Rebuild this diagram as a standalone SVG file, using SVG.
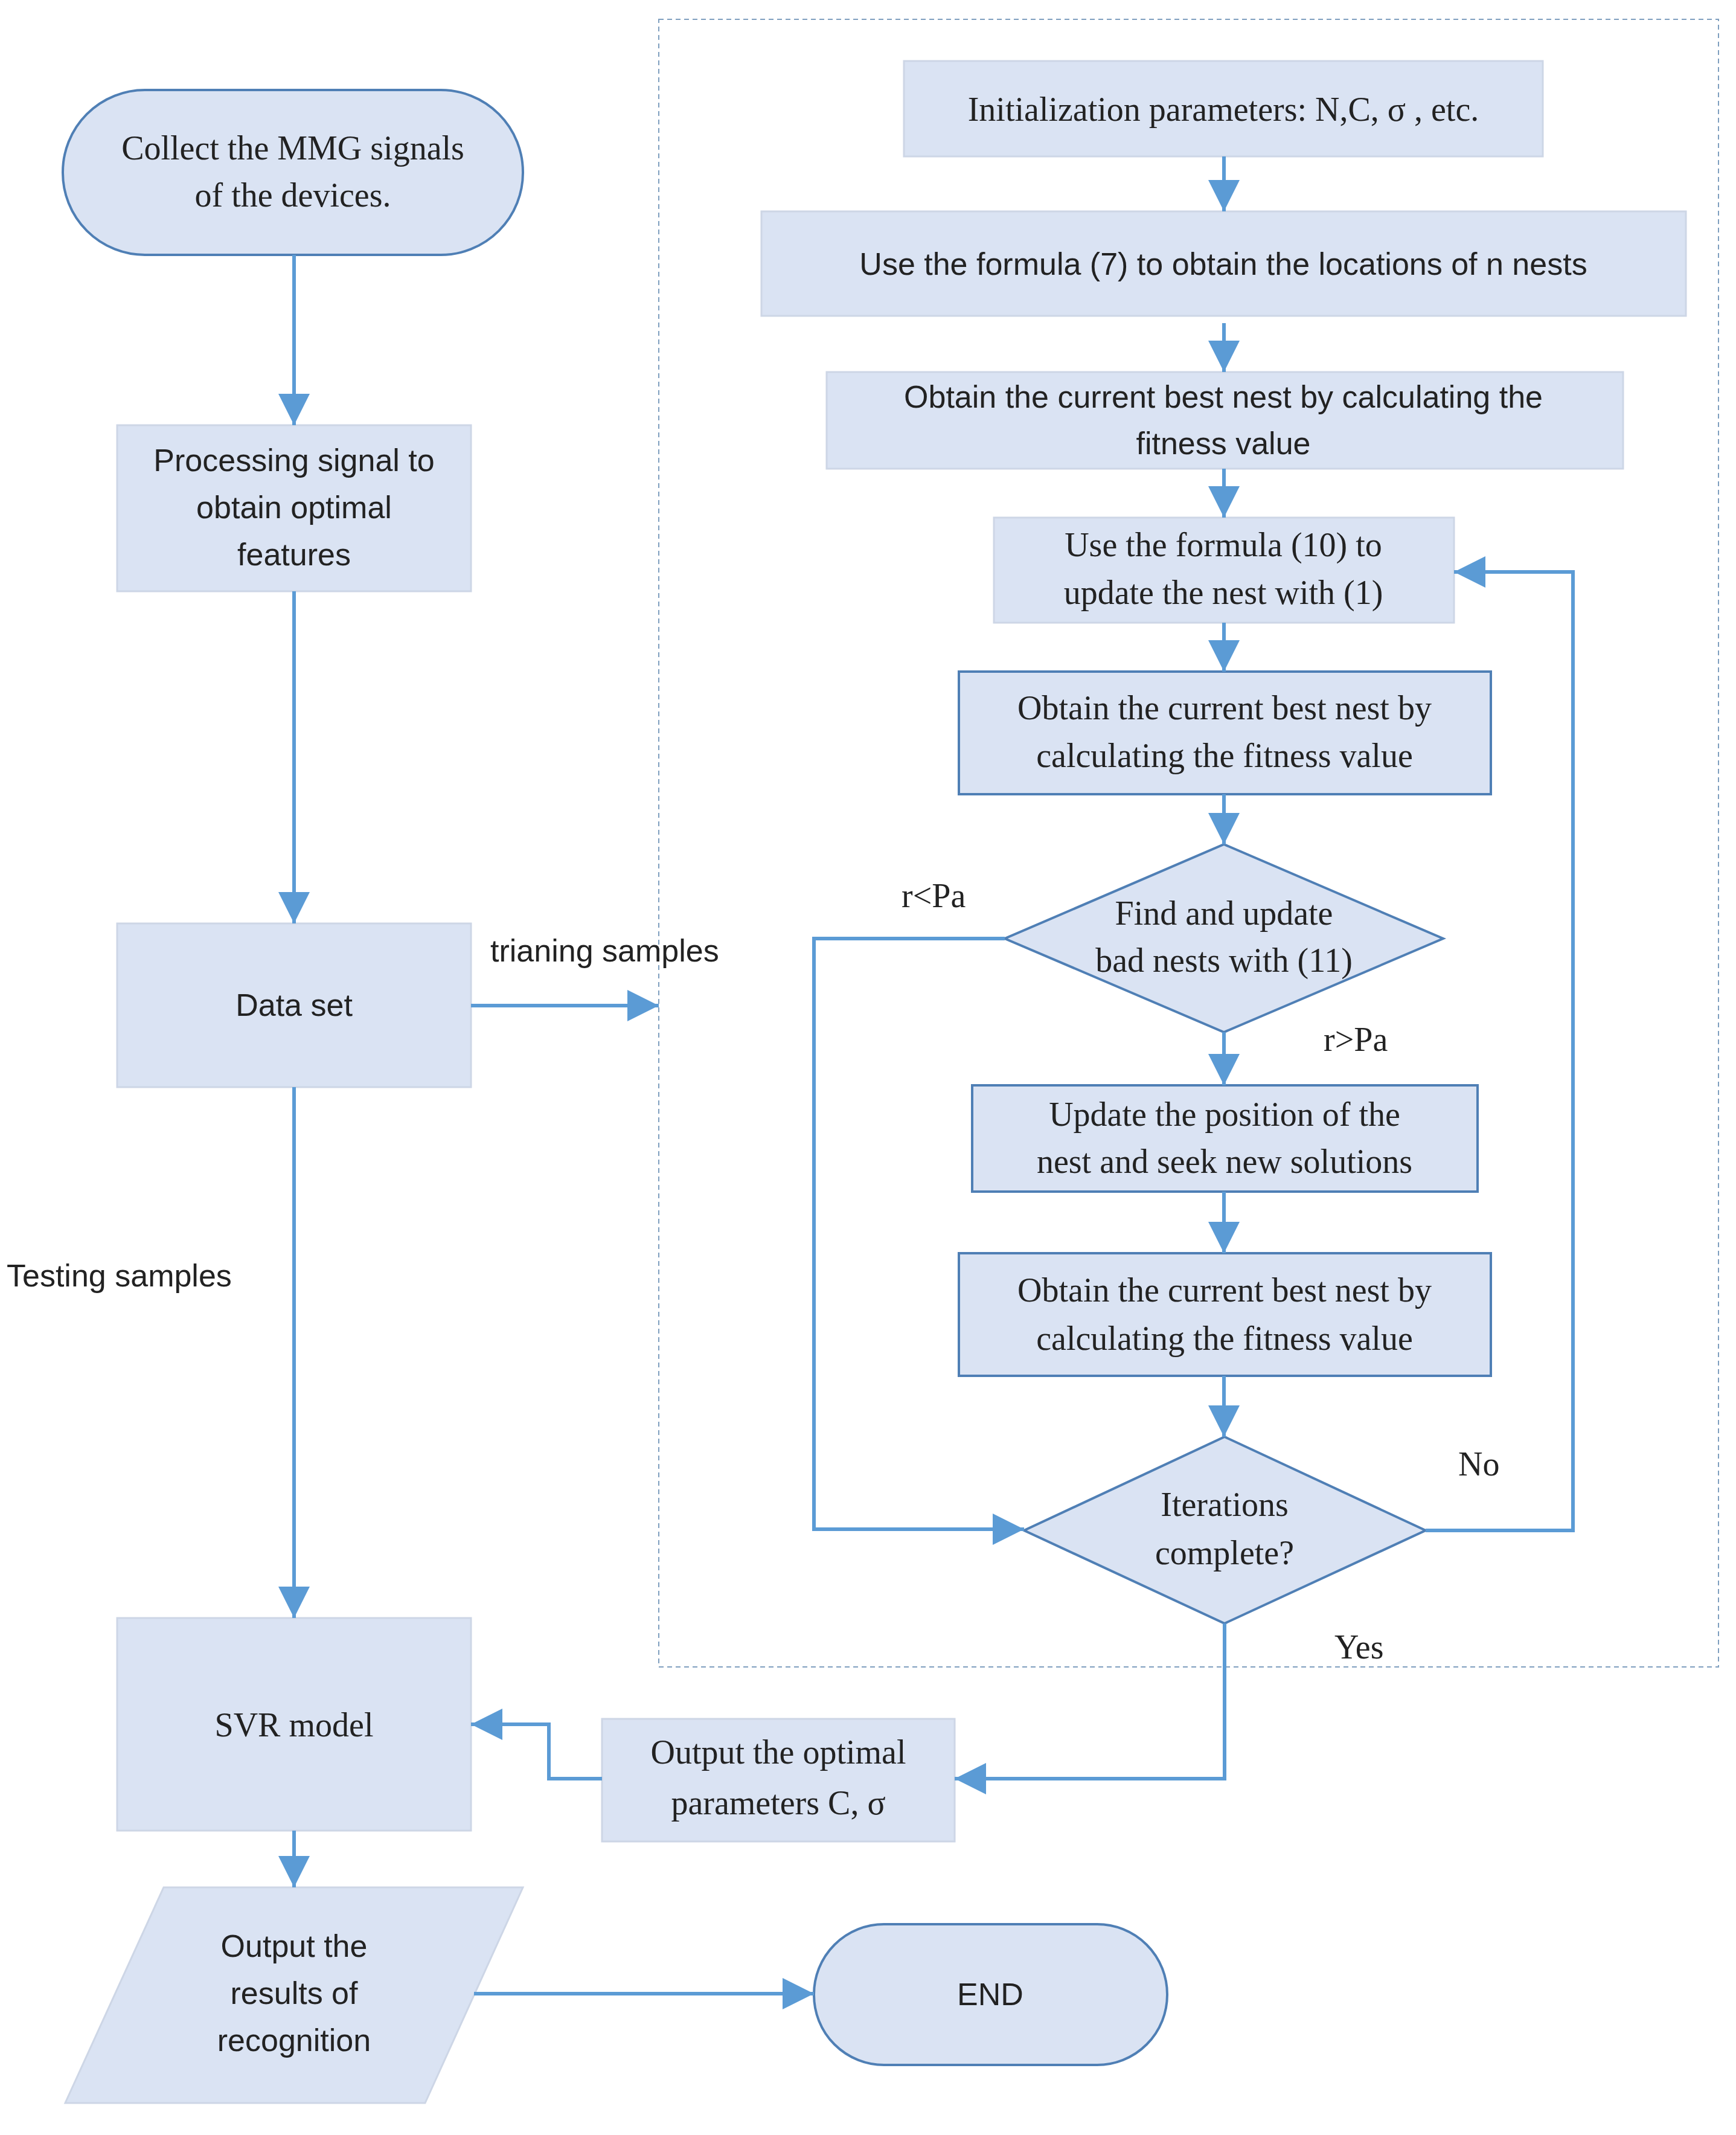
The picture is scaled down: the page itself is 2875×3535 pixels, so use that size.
<svg xmlns="http://www.w3.org/2000/svg" width="2875" height="3535" viewBox="0 0 2875 3535">
<style>
.n{fill:#dae3f3;stroke:#cdd6e6;stroke-width:3}
.b{fill:#dae3f3;stroke:#4f7fb5;stroke-width:4}
.s{font-family:"Liberation Sans",Arial,sans-serif;font-size:52px;fill:#222;text-anchor:middle}
.r{font-family:"Liberation Serif","Times New Roman",serif;font-size:56px;fill:#222;text-anchor:middle}
.c{fill:none;stroke:#5b9bd5;stroke-width:6}
</style>
<defs>
<marker id="a" markerWidth="10" markerHeight="10" refX="9" refY="5" orient="auto" markerUnits="userSpaceOnUse" viewBox="0 0 10 10"><path d="M0,0 L10,5 L0,10 z" fill="#5b9bd5"/></marker>
<marker id="m" viewBox="0 0 10 10" refX="10" refY="5" markerWidth="52" markerHeight="52" markerUnits="userSpaceOnUse" orient="auto"><path d="M0,0 L10,5 L0,10 z" fill="#5b9bd5"/></marker>
</defs>
<rect x="1091" y="32" width="1755" height="2728" fill="none" stroke="#7f9fbf" stroke-width="2" stroke-dasharray="8,6"/>
<g id="collect"><rect class="b" x="104" y="149" width="762" height="273" rx="136"/><text class="r" x="485" y="264">Collect the MMG signals</text><text class="r" x="485" y="342">of the devices.</text></g>
<g id="processing"><rect class="n" x="194" y="704" width="586" height="275"/><text class="s" x="487" y="780">Processing signal to</text><text class="s" x="487" y="858">obtain optimal</text><text class="s" x="487" y="936">features</text></g>
<g id="dataset"><rect class="n" x="194" y="1529" width="586" height="271"/><text class="s" x="487" y="1682">Data set</text></g>
<g id="svr"><rect class="n" x="194" y="2679" width="586" height="352"/><text class="r" x="487" y="2875">SVR model</text></g>
<g id="results"><polygon class="n" points="271,3125 866,3125 704,3482 108,3482"/><text class="s" x="487" y="3240">Output the</text><text class="s" x="487" y="3318">results of</text><text class="s" x="487" y="3396">recognition</text></g>
<g id="end"><rect class="b" x="1348" y="3186" width="585" height="233" rx="116"/><text class="s" x="1640" y="3320">END</text></g>
<g id="optimal"><rect class="n" x="997" y="2846" width="584" height="203"/><text class="r" x="1289" y="2920">Output the optimal</text><text class="r" x="1289" y="3004">parameters C, σ</text></g>
<g id="init"><rect class="n" x="1497" y="101" width="1058" height="158"/><text class="r" x="2026" y="200">Initialization parameters: N,C, σ , etc.</text></g>
<g id="formula7"><rect class="n" x="1261" y="350" width="1531" height="173"/><text class="s" x="2026" y="455">Use the formula (7) to obtain the locations of  n nests</text></g>
<g id="obtain1"><rect class="n" x="1369" y="616" width="1319" height="160"/><text class="s" x="2026" y="675">Obtain the current best nest by calculating the</text><text class="s" x="2026" y="752">fitness value</text></g>
<g id="formula10"><rect class="n" x="1646" y="857" width="762" height="174"/><text class="r" x="2026" y="921">Use the formula (10) to</text><text class="r" x="2026" y="1000">update the nest with (1)</text></g>
<g id="obtain2"><rect class="b" x="1588" y="1112" width="881" height="203"/><text class="r" x="2028" y="1191">Obtain the current best nest by</text><text class="r" x="2028" y="1270">calculating the fitness value</text></g>
<g id="find"><polygon class="b" points="2027,1398 2390,1554 2027,1709 1664,1554"/><text class="r" x="2027" y="1531">Find and update</text><text class="r" x="2027" y="1609">bad nests with (11)</text></g>
<g id="update"><rect class="b" x="1610" y="1797" width="837" height="176"/><text class="r" x="2028" y="1864">Update  the position of the</text><text class="r" x="2028" y="1942">nest and seek new solutions</text></g>
<g id="obtain3"><rect class="b" x="1588" y="2075" width="881" height="203"/><text class="r" x="2028" y="2155">Obtain the current best nest by</text><text class="r" x="2028" y="2235">calculating the fitness value</text></g>
<g id="iter"><polygon class="b" points="2028,2379 2361,2534 2028,2688 1696,2534"/><text class="r" x="2028" y="2510">Iterations</text><text class="r" x="2028" y="2590">complete?</text></g>
<g id="connectors">
<path class="c" marker-end="url(#m)" d="M487,422 V704"/>
<path class="c" marker-end="url(#m)" d="M487,979 V1529"/>
<path class="c" marker-end="url(#m)" d="M780,1665 H1091"/>
<path class="c" marker-end="url(#m)" d="M487,1800 V2679"/>
<path class="c" marker-end="url(#m)" d="M487,3031 V3125"/>
<path class="c" marker-end="url(#m)" d="M785,3301 H1348"/>
<path class="c" marker-end="url(#m)" d="M2027,259 V350"/>
<path class="c" marker-end="url(#m)" d="M2027,535 V616"/>
<path class="c" marker-end="url(#m)" d="M2027,776 V857"/>
<path class="c" marker-end="url(#m)" d="M2027,1031 V1112"/>
<path class="c" marker-end="url(#m)" d="M2027,1315 V1398"/>
<path class="c" marker-end="url(#m)" d="M2027,1709 V1797"/>
<path class="c" marker-end="url(#m)" d="M2027,1973 V2075"/>
<path class="c" marker-end="url(#m)" d="M2027,2278 V2379"/>
<path class="c" marker-end="url(#m)" d="M1664,1554 H1348 V2532 H1696"/>
<path class="c" marker-end="url(#m)" d="M2361,2534 H2605 V947 H2408"/>
<path class="c" marker-end="url(#m)" d="M2028,2688 V2945 H1581"/>
<path class="c" marker-end="url(#m)" d="M997,2945 H909 V2855 H780"/>
</g>
<text class="s" x="812" y="1592" style="text-anchor:start">trianing samples</text>
<text class="s" x="11" y="2130" style="text-anchor:start">Testing samples</text>
<text class="r" x="1493" y="1502" style="text-anchor:start">r&lt;Pa</text>
<text class="r" x="2192" y="1740" style="text-anchor:start">r&gt;Pa</text>
<text class="r" x="2415" y="2443" style="text-anchor:start">No</text>
<text class="r" x="2210" y="2746" style="text-anchor:start">Yes</text>
</svg>
